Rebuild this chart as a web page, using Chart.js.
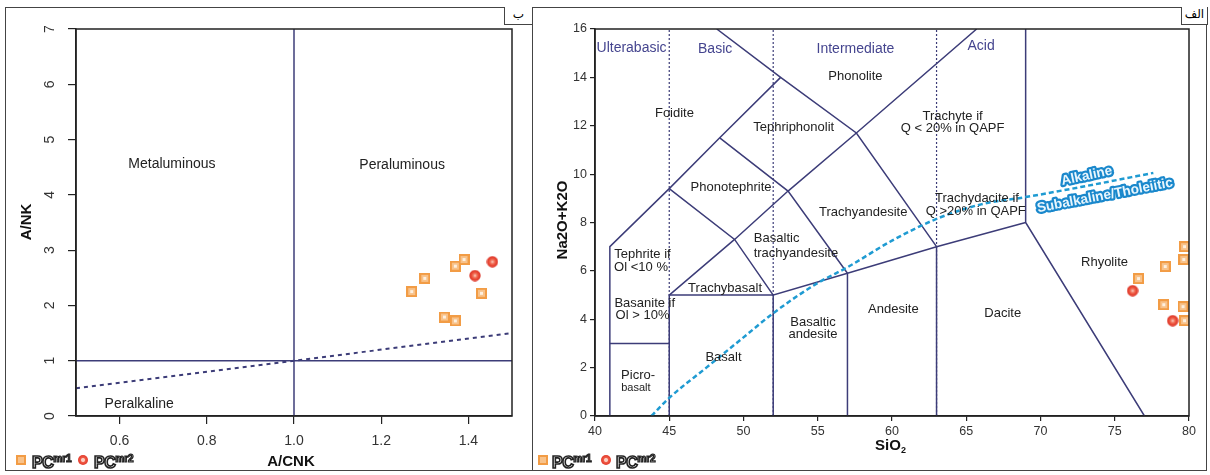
<!DOCTYPE html>
<html>
<head>
<meta charset="utf-8">
<script src="https://cdn.jsdelivr.net/npm/chart.js@4.4.1/dist/chart.umd.min.js"></script>
<style>
  body { margin: 0; width: 1210px; height: 475px; background: #fff; position: relative; overflow: hidden;
         font-family: "Liberation Sans", Arial, sans-serif; }
  canvas { position: absolute; top: 0; z-index: 1; }
  #frame { position: absolute; left: 5px; top: 7px; width: 1202px; height: 464px; box-sizing: border-box;
           border: 1.5px solid #444; }
  #divider { position: absolute; left: 532px; top: 7px; height: 464px; border-left: 1.5px solid #444; }
  .tag { position: absolute; top: 7px; height: 18px; box-sizing: border-box; border: 1px solid #444; border-top: none;
         background: #fff; font: 12px "DejaVu Sans", "Noto Sans", sans-serif; text-align: center; line-height: 14px;
         z-index: 3; overflow: visible; }
  .legend { position: absolute; top: 451px; height: 18px; z-index: 3; }
  .legend span, .legend i { position: absolute; }
  .sq { width: 10px; height: 10px; top: 4px; background: #f8c28a; box-shadow: inset 0 0 0 2px #f29c45; }
  .ci { width: 10px; height: 10px; top: 4px; border-radius: 50%; background: radial-gradient(circle, #fbd0c4 0 1.5px, #ef5a45 2.5px, #e23a2c 5px); }
  .pc { top: -1px; font: bold 16px Arial, "Liberation Sans", sans-serif; color: #fff; -webkit-text-stroke: 1.6px #222;
        letter-spacing: -0.5px; white-space: nowrap; line-height: 18px; }
  .pc sup { font-size: 10px; vertical-align: 6px; letter-spacing: 0; -webkit-text-stroke: 1.2px #222; }
</style>
</head>
<body>
<div id="frame"></div>
<div id="divider"></div>
<div class="tag" style="left:504px;width:29px;">ب</div>
<div class="tag" style="left:1181px;width:27px;">الف</div>

<canvas id="acnk" width="533" height="475" style="left:0"></canvas>
<canvas id="tas" width="677" height="475" style="left:533px"></canvas>

<div class="legend" style="left:0">
  <i class="sq" style="left:16px"></i><span class="pc" style="left:32px">PC<sup>mr1</sup></span>
  <i class="ci" style="left:78px"></i><span class="pc" style="left:94px">PC<sup>mr2</sup></span>
</div>
<div class="legend" style="left:533px">
  <i class="sq" style="left:5px"></i><span class="pc" style="left:19px">PC<sup>mr1</sup></span>
  <i class="ci" style="left:68px"></i><span class="pc" style="left:83px">PC<sup>mr2</sup></span>
</div>

<script>
// ---- A/CNK vs A/NK (ب) ----
const aCNKTicks = [0.6, 0.8, 1.0, 1.2, 1.4];
const aNKTicks = [0, 1, 2, 3, 4, 5, 6, 7];
const mr1CNK = [1.27, 1.30, 1.37, 1.39, 1.43, 1.345, 1.37];
const mr1NK = [2.25, 2.49, 2.71, 2.83, 2.22, 1.79, 1.72];
const mr2CNK = [1.415, 1.455];
const mr2NK = [2.54, 2.79];
const aluminaLine = [[1.0, 0], [1.0, 7]];
const alkaliLine = [[0.5, 1], [1.5, 1]];
const peralkDash = [[0.5, 0.5], [1.5, 1.5]];
const fieldNames1 = ['Metaluminous', 'Peraluminous', 'Peralkaline'];
const fieldPos1 = [[0.72, 4.56], [1.248, 4.54], [0.645, 0.22]];

// ---- TAS (الف) ----
const sioTicks = [40, 45, 50, 55, 60, 65, 70, 75, 80];
const alkTicks = [0, 2, 4, 6, 8, 10, 12, 14, 16];
const mr1SiO2 = [79.7, 79.65, 78.4, 76.6, 78.3, 79.6, 79.7];
const mr1Alk = [7.0, 6.47, 6.18, 5.68, 4.6, 4.52, 3.94];
const mr2SiO2 = [76.2, 78.9];
const mr2Alk = [5.18, 3.94];

const foiditeEdge = [[41, 0], [41, 7], [45, 9.4], [48.4, 11.5], [52.5, 14]];
const picroTop = [[41, 3], [45, 3]];
const basaltEdge = [[45, 0], [45, 5], [52, 5]];
const subalkTop = [[52, 0], [52, 5], [57, 5.9], [63, 7], [69, 8]];
const andesiteEdge = [[57, 0], [57, 5.9]];
const daciteEdge = [[63, 0], [63, 7]];
const rhyoliteEdge = [[69, 16], [69, 8], [77, 0]];
const trachyDiag = [[45, 5], [49.4, 7.3], [53, 9.3], [57.6, 11.7], [65.7, 16]];
const tephriDiag = [[45, 9.4], [49.4, 7.3], [52, 5]];
const phonoDiag = [[48.4, 11.5], [53, 9.3], [57, 5.9]];
const phonoliteEdge = [[48.2, 16], [52.5, 14], [57.6, 11.7], [63, 7]];
const silicaSplits = [45, 52, 63];
const irvineCurve = [[43.8, 0], [45, 0.75], [47.5, 2.0], [50, 3.25], [52, 4.25], [55, 5.5], [57, 6.15],
                     [60, 7.25], [63, 8.15], [66, 8.75], [69, 9.05], [73, 9.5], [77.6, 10.05]];

const groupNames = ['Ulterabasic', 'Basic', 'Intermediate', 'Acid'];
const groupPos = [[42.46, 15.19], [48.09, 15.17], [57.54, 15.17], [66.0, 15.28]];
const fieldNames2 = ['Phonolite', 'Foidite', 'Tephriphonolit', 'Trachyte if', 'Q < 20% in QAPF', 'Phonotephrite',
  'Trachyandesite', 'Trachydacite if', 'Q >20% in QAPF', 'Tephrite if', 'Ol <10 %', 'Basaltic', 'trachyandesite',
  'Trachybasalt', 'Basanite if', 'Ol > 10%', 'Basaltic', 'andesite', 'Andesite', 'Dacite', 'Basalt', 'Picro-', 'Rhyolite'];
const fieldPos2 = [[57.54, 14.02], [45.35, 12.5], [53.38, 11.92], [64.08, 12.4], [64.08, 11.88], [49.16, 9.43],
  [58.06, 8.40], [65.72, 8.99], [65.64, 8.47], [43.2, 6.67], [43.1, 6.15], [52.23, 7.33], [53.53, 6.74],
  [48.76, 5.29], [43.35, 4.67], [43.2, 4.14], [54.68, 3.87], [54.68, 3.36], [60.09, 4.39], [67.46, 4.25],
  [48.65, 2.43], [42.9, 1.66], [74.31, 6.37]];

const navy = '#3c3c78';
const zip = (xs, ys) => xs.map((x, i) => ({ x: x, y: ys[i] }));
const pts = arr => arr.map(p => ({ x: p[0], y: p[1] }));

function squareMark() {
  const c = document.createElement('canvas');
  c.width = c.height = 11;
  const g = c.getContext('2d');
  g.fillStyle = '#f29c45'; g.fillRect(0, 0, 11, 11);
  g.fillStyle = '#f8c28a'; g.fillRect(2, 2, 7, 7);
  g.fillStyle = '#fdf0e0'; g.fillRect(4, 4, 3, 3);
  return c;
}
function circleMark() {
  const c = document.createElement('canvas');
  c.width = c.height = 12;
  const g = c.getContext('2d');
  const gr = g.createRadialGradient(6, 6, 0, 6, 6, 6);
  gr.addColorStop(0, '#fcd8cc'); gr.addColorStop(0.3, '#f27a62'); gr.addColorStop(0.6, '#ea4a36'); gr.addColorStop(1, '#d9352a');
  g.fillStyle = gr; g.beginPath(); g.arc(6, 6, 5.7, 0, Math.PI * 2); g.fill();
  return c;
}
const sqImg = squareMark();
const ciImg = circleMark();

function lineSet(data, opts) {
  return Object.assign({ data: pts(data), showLine: true, pointRadius: 0, borderColor: navy, borderWidth: 1.5,
                         fill: false, tension: 0 }, opts || {});
}

function axis(ticks, min, max, tl, pad, size, fmt, show) {
  return {
    type: 'linear', min: min, max: max,
    afterBuildTicks: s => { s.ticks = ticks.map(v => ({ value: v })); },
    ticks: { display: show, padding: pad, color: '#333', font: { size: size, family: 'Liberation Sans, Arial' },
             callback: fmt },
    grid: { drawOnChartArea: false, drawTicks: true, tickLength: tl, color: '#222', lineWidth: 1.2 },
    border: { display: true, color: '#222', width: 1.5 }
  };
}

const framePlugin = {
  id: 'frame',
  afterDraw(chart) {
    const a = chart.chartArea, ctx = chart.ctx;
    ctx.save(); ctx.strokeStyle = '#222'; ctx.lineWidth = 1.5;
    ctx.strokeRect(a.left, a.top, a.right - a.left, a.bottom - a.top);
    ctx.restore();
  }
};

function text(ctx, s, x, y, font, color, rot) {
  ctx.save();
  ctx.translate(x, y);
  if (rot) ctx.rotate(rot);
  ctx.font = font; ctx.fillStyle = color; ctx.textAlign = 'center'; ctx.textBaseline = 'middle';
  ctx.fillText(s, 0, 0);
  ctx.restore();
}

// ---------- left chart ----------
new Chart(document.getElementById('acnk'), {
  type: 'scatter',
  data: {
    datasets: [
      { data: zip(mr2CNK, mr2NK), pointStyle: ciImg, pointRadius: 6 },
      { data: zip(mr1CNK, mr1NK), pointStyle: sqImg, pointRadius: 6 },
      lineSet(aluminaLine),
      lineSet(alkaliLine),
      lineSet(peralkDash, { borderDash: [4, 4], borderWidth: 2 })
    ]
  },
  options: {
    responsive: false, animation: false, events: [],
    layout: { padding: { left: 0, top: 29, right: 21, bottom: 0 } },
    plugins: { legend: { display: false }, tooltip: { enabled: false } },
    scales: {
      x: Object.assign(axis(aCNKTicks, 0.5, 1.5, 8, 9, 14, v => v.toFixed(1), true),
                       { afterFit: s => { s.height = 59; } }),
      y: Object.assign(axis(aNKTicks, 0, 7, 8, 3, 14, v => v, false),
                       { afterFit: s => { s.width = 76; } })
    }
  },
  plugins: [framePlugin, {
    id: 'labels1',
    afterDraw(chart) {
      const ctx = chart.ctx, sx = chart.scales.x, sy = chart.scales.y;
      aNKTicks.forEach(v => text(ctx, String(v), 50, sy.getPixelForValue(v), '14px "Liberation Sans", Arial', '#333', -Math.PI / 2));
      fieldNames1.forEach((n, i) => text(ctx, n, sx.getPixelForValue(fieldPos1[i][0]), sy.getPixelForValue(fieldPos1[i][1]),
                                         '14px "Liberation Sans", Arial', '#222'));
      text(ctx, 'A/NK', 27, 222, 'bold 15px "Liberation Sans", Arial', '#111', -Math.PI / 2);
      text(ctx, 'A/CNK', 291, 462, 'bold 15px "Liberation Sans", Arial', '#111');
    }
  }]
});

// ---------- right chart ----------
const tasSets = [
  { data: zip(mr2SiO2, mr2Alk), pointStyle: ciImg, pointRadius: 6 },
  { data: zip(mr1SiO2, mr1Alk), pointStyle: sqImg, pointRadius: 6 },
  lineSet(irvineCurve, { borderColor: '#1f9bd2', borderWidth: 2.5, borderDash: [5, 3], cubicInterpolationMode: 'monotone' })
];
[foiditeEdge, picroTop, basaltEdge, subalkTop, andesiteEdge, daciteEdge, rhyoliteEdge, trachyDiag, tephriDiag,
 phonoDiag, phonoliteEdge].forEach(l => tasSets.push(lineSet(l)));
silicaSplits.forEach(x => tasSets.push(lineSet([[x, 0], [x, 16]], { borderWidth: 1.2, borderDash: [2, 2] })));

new Chart(document.getElementById('tas'), {
  type: 'scatter',
  data: { datasets: tasSets },
  options: {
    responsive: false, animation: false, events: [],
    layout: { padding: { left: 0, top: 29, right: 21, bottom: 0 } },
    plugins: { legend: { display: false }, tooltip: { enabled: false } },
    scales: {
      x: Object.assign(axis(sioTicks, 40, 80, 5, 3, 12.5, v => v, true), { afterFit: s => { s.height = 59; } }),
      y: Object.assign(axis(alkTicks, 0, 16, 5, 3, 12.5, v => v, true), { afterFit: s => { s.width = 62; } })
    }
  },
  plugins: [framePlugin, {
    id: 'labels2',
    afterDraw(chart) {
      const ctx = chart.ctx, sx = chart.scales.x, sy = chart.scales.y;
      const px = v => sx.getPixelForValue(v), py = v => sy.getPixelForValue(v);
      groupNames.forEach((n, i) => text(ctx, n, px(groupPos[i][0]), py(groupPos[i][1]), '14px "Liberation Sans", Arial', '#45458f'));
      fieldNames2.forEach((n, i) => text(ctx, n, px(fieldPos2[i][0]), py(fieldPos2[i][1]), '13px "Liberation Sans", Arial', '#222'));
      text(ctx, 'basalt', px(42.75), py(1.15), '11px "Liberation Sans", Arial', '#222');
      // alkaline / subalkaline tags
      [['Alkaline', 73.11, 9.92, -0.21], ['Subalkaline/Tholeiitic', 74.34, 9.11, -0.19]].forEach(t => {
        ctx.save();
        ctx.translate(px(t[1]), py(t[2])); ctx.rotate(t[3]);
        ctx.font = 'bold 13.5px "Liberation Sans", Arial'; ctx.textAlign = 'center'; ctx.textBaseline = 'middle';
        ctx.lineJoin = 'round'; ctx.strokeStyle = '#1a88cc'; ctx.lineWidth = 4.5; ctx.strokeText(t[0], 0, 0);
        ctx.fillStyle = '#e9f6fd'; ctx.fillText(t[0], 0, 0);
        ctx.restore();
      });
      text(ctx, 'Na2O+K2O', 30, 220, 'bold 15px "Liberation Sans", Arial', '#111', -Math.PI / 2);
      ctx.save();
      ctx.font = 'bold 15px "Liberation Sans", Arial'; ctx.fillStyle = '#111'; ctx.textBaseline = 'middle';
      const w = ctx.measureText('SiO').width;
      const cx = px(60) - 4;
      ctx.fillText('SiO', cx - w / 2, 446);
      ctx.font = 'bold 9px "Liberation Sans", Arial';
      ctx.fillText('2', cx + w / 2, 451);
      ctx.restore();
    }
  }]
});
</script>
</body>
</html>
